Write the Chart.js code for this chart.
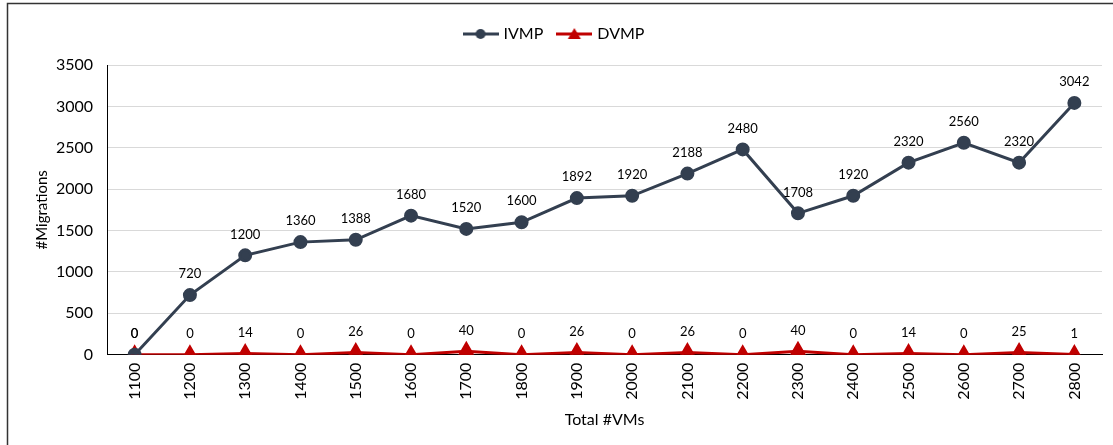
<!DOCTYPE html>
<html>
<head>
<meta charset="utf-8">
<script src="https://cdn.jsdelivr.net/npm/chart.js@4/dist/chart.umd.min.js"></script>
<style>
  html, body { margin: 0; padding: 0; background: #fff; }
  #wrap { width: 1113px; height: 445px; position: relative; }
</style>
</head>
<body>
<div id="wrap"><canvas id="chart" width="1113" height="445"></canvas></div>
<script>
// Data
const totalVMs = ['1100', '1200', '1300', '1400', '1500', '1600', '1700', '1800', '1900',
                  '2000', '2100', '2200', '2300', '2400', '2500', '2600', '2700', '2800'];
const ivmp = [0, 720, 1200, 1360, 1388, 1680, 1520, 1600, 1892, 1920, 2188, 2480, 1708, 1920, 2320, 2560, 2320, 3042];
const dvmp = [0, 0, 14, 0, 26, 0, 40, 0, 26, 0, 26, 0, 40, 0, 14, 0, 25, 1];

const navy = '#333F50';
const red = '#C00000';
const fontFamily = 'Lato, "Open Sans", sans-serif';

Chart.defaults.font.family = fontFamily;
Chart.defaults.color = '#000';

// legend icons: short line with a marker in the middle
function legendIcon(color, shape) {
    const c = document.createElement('canvas');
    c.width = 36; c.height = 14;
    const g = c.getContext('2d');
    g.strokeStyle = color;
    g.fillStyle = color;
    g.lineWidth = 3;
    g.beginPath(); g.moveTo(0, 7); g.lineTo(36, 7); g.stroke();
    g.beginPath();
    if (shape === 'circle') {
        g.arc(18, 7, 5, 0, Math.PI * 2);
    } else {
        g.moveTo(18, 1); g.lineTo(24.5, 12); g.lineTo(11.5, 12); g.closePath();
    }
    g.fill();
    return c;
}

// value labels above each point
const valueLabels = {
    id: 'valueLabels',
    afterDatasetsDraw(chart) {
        const ctx = chart.ctx;
        ctx.save();
        ctx.font = '13px ' + fontFamily;
        ctx.fillStyle = '#000';
        ctx.textAlign = 'center';
        ctx.textBaseline = 'middle';
        chart.data.datasets.forEach((ds, i) => {
            const meta = chart.getDatasetMeta(i);
            meta.data.forEach((pt, j) => {
                ctx.fillText(String(ds.data[j]), pt.x, pt.y - 21);
            });
        });
        ctx.restore();
    }
};

// extra room under the legend
const legendGap = {
    id: 'legendGap',
    beforeInit(chart) {
        const origFit = chart.legend.fit;
        chart.legend.fit = function () {
            origFit.bind(chart.legend)();
            this.height += 13;
        };
    }
};

// outer frame (only left and top edges are visible in the picture)
const frame = {
    id: 'frame',
    beforeDraw(chart) {
        const ctx = chart.ctx;
        ctx.save();
        ctx.strokeStyle = '#333';
        ctx.lineWidth = 1.5;
        ctx.beginPath();
        ctx.moveTo(7.5, 445);
        ctx.lineTo(7.5, 3.5);
        ctx.lineTo(1113, 3.5);
        ctx.stroke();
        ctx.restore();
    }
};

const ctx = document.getElementById('chart').getContext('2d');
const migrationChart = new Chart(ctx, {
    type: 'line',
    data: {
        labels: totalVMs,
        datasets: [
            {
                label: 'IVMP',
                data: ivmp,
                borderColor: navy,
                backgroundColor: navy,
                borderWidth: 3,
                pointStyle: 'circle',
                pointRadius: 5.5,
                pointHoverRadius: 5.5,
                tension: 0
            },
            {
                label: 'DVMP',
                data: dvmp,
                borderColor: red,
                backgroundColor: red,
                borderWidth: 3,
                pointStyle: 'triangle',
                pointRadius: 7.5,
                pointHoverRadius: 7.5,
                tension: 0
            }
        ]
    },
    options: {
        responsive: false,
        animation: false,
        layout: { padding: { left: 8, right: 11, top: 10, bottom: 16 } },
        scales: {
            x: {
                offset: true,
                grid: { display: false, drawTicks: false },
                border: { display: true, color: '#000', width: 1 },
                ticks: {
                    minRotation: 90,
                    maxRotation: 90,
                    padding: 8,
                    font: { size: 16 },
                    color: '#000'
                },
                title: {
                    display: true,
                    text: 'Total #VMs',
                    font: { size: 16 },
                    color: '#000',
                    padding: { top: 2, bottom: 0 }
                }
            },
            y: {
                min: 0,
                max: 3500,
                afterFit(scale) { scale.width = 99; },
                grid: { color: '#D9D9D9', lineWidth: 1, drawTicks: false },
                border: { display: true, color: '#000', width: 1 },
                ticks: {
                    stepSize: 500,
                    padding: 14,
                    font: { size: 16 },
                    color: '#000',
                    callback: (v) => String(v)
                },
                title: {
                    display: true,
                    text: '#Migrations',
                    font: { size: 15 },
                    color: '#000',
                    padding: { top: 25, bottom: 0 }
                }
            }
        },
        plugins: {
            legend: {
                position: 'top',
                labels: {
                    usePointStyle: true,
                    pointStyleWidth: 30,
                    generateLabels(chart) {
                        return [
                            { text: 'IVMP', pointStyle: legendIcon(navy, 'circle'), datasetIndex: 0, fontColor: '#000', lineWidth: 0, strokeStyle: 'transparent', fillStyle: navy },
                            { text: 'DVMP', pointStyle: legendIcon(red, 'triangle'), datasetIndex: 1, fontColor: '#000', lineWidth: 0, strokeStyle: 'transparent', fillStyle: red }
                        ];
                    },
                    font: { size: 16 },
                    color: '#000',
                    padding: 16
                }
            },
            tooltip: { enabled: false }
        }
    },
    plugins: [valueLabels, legendGap, frame]
});
</script>
</body>
</html>
